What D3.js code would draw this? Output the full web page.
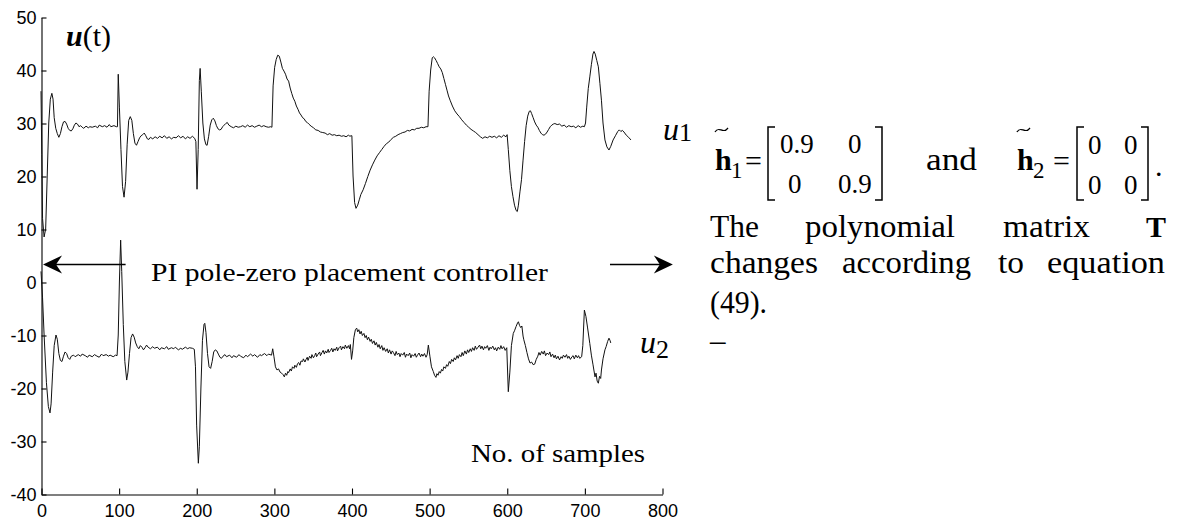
<!DOCTYPE html>
<html><head><meta charset="utf-8">
<script src="https://cdn.jsdelivr.net/npm/d3@7"></script>
<style>
html,body{margin:0;padding:0;background:#fff;}
svg{display:block;}
.tick text{font-family:"Liberation Sans",Arial,Helvetica,sans-serif;font-size:18px;fill:#000;}
.serif{font-family:"Liberation Serif","Times New Roman",serif;fill:#000;}
</style></head><body>
<svg id="chart" width="1178" height="521"></svg>
<script>
// ---------------- data ----------------
const xTicks = [0,100,200,300,400,500,600,700,800];
const yTicks = [-40,-30,-20,-10,0,10,20,30,40,50];

// u1 : [sample, value]
const u1Samples = [
[0,36],[1,24],[2,12],[4,8.5],[6,10],[8,20],[10,30],[12,34.5],[14,35.6],[15.5,34.5],[17,31],[19,29],[21,28],[23,27.3],[25,28],[27,29.3],[29,30.2],[31,30.3],[33,29.8],[35,29],[37,28.6],[39,28.5],[41,28.9],[43,29.6],[45,30],[47,29.8],[49,29.3],[51,29.5],[53,29.2],[55,29.0],[58,29.4],[61,29.1],[63,29.3],[66,29.2],[70,29.4],[73,29.1],[75,29.6],[79,29.3],[82,29.5],[85,29.2],[88,29.7],[90,29.3],[94,29.5],[97,29.3],
[98.5,29.3],[99.5,39.2],[101,33],[103,25],[105,18],[107,16],[109,19],[111,26],[113,30.5],[115,31.2],[117,30.5],[119,28],[121,26.2],[123,25.8],[125,26.5],[127,27.2],[129,27.6],[131,27.8],[133,28.1],[135,27.6],[137,27.0],[139,26.9],[141,27.3],[144,27.0],[147,27.4],[150,27.1],[153,27.5],[156,27.2],[159,27.6],[162,27.1],[165,27.4],[168,27.0],[171,27.3],[174,27.2],[177,27.6],[180,27.2],[183,27.5],[186,27.0],[189,27.4],[192,27.1],[195,27.5],[198,27.1],
[199.5,26.5],[201,17.5],[202.5,25],[204,38],[205,40.3],[206.5,36],[208.5,30],[210.5,27],[212.5,25.9],[214,25.8],[216,27.5],[218,29.6],[220,30.6],[222,30.9],[224,30.4],[226,29.5],[228,28.9],[230,28.7],[232,28.8],[234,29.3],[236,29.6],[238,29.9],[240,30.1],[242,29.6],[245,29.3],[248,29.1],[251,29.4],[254,29.2],[257,29.3],[260,29.5],[263,29.2],[266,29.6],[269,29.3],[272,29.5],[275,29.2],[278,29.4],[281,29.6],[284,29.3],[287,29.5],[290,29.3],[293,29.2],[296,29.3],
[297.5,29.2],[299,37],[301,40.5],[303,42],[305,42.8],[307,42.6],[309,41.5],[311,40.3],[313,39.8],[315,39.2],[317,38.3],[319,37.9],[321,36.6],[323,35.6],[325,34.7],[327,34.1],[329,33.2],[331,32.6],[333,31.9],[335,31.5],[337,31.0],[339,30.8],[341,30.3],[343,30.1],[345,29.8],[348,29.4],[351,29.1],[354,28.7],[357,28.6],[360,28.3],[363,28.2],[366,28.1],[369,27.8],[372,28.0],[375,27.7],[378,27.8],[381,27.6],[384,27.7],[387,27.5],[390,27.6],[393,27.4],[396,27.7],[398,27.5],[399.5,27.6],
[400.5,27.6],[402,20],[404,15],[405.8,13.9],[408,14.5],[410,15.5],[412,16.5],[415,17.4],[418,18.6],[421,19.9],[424,21.1],[427,22.1],[430,23],[433,23.8],[436,24.4],[439,25.0],[442,25.6],[445,26.1],[448,26.4],[451,26.9],[454,27.3],[457,27.5],[460,27.8],[463,28.0],[466,28.2],[469,28.3],[472,28.6],[475,28.5],[478,28.8],[481,28.7],[484,29.0],[487,29.0],[490,29.2],[493,29.1],[496,29.3],[498.5,29.3],
[500,36],[502,40],[504,42.3],[505.5,42.5],[507,42.3],[509,41.8],[511,41.2],[513,40.6],[515,40.2],[517,39.5],[519,38.4],[521,37.3],[523,36.2],[525,35.1],[527,34.3],[530,33.2],[533,32.3],[536,31.7],[539,31.2],[542,30.6],[545,30.1],[548,29.6],[551,29.2],[554,28.8],[557,28.5],[560,28.2],[563,27.8],[566,27.4],[569,27.1],[572,27.4],[575,27.2],[578,27.5],[581,27.3],[584,27.5],[587,27.2],[590,27.6],[593,27.3],[596,27.7],[599,27.4],[600.5,27.8],
[602,25],[604,21],[606,18],[608,16.1],[610,14.5],[612,13.5],[613.6,13.3],[615,14.5],[617,17],[619,19.3],[621,23],[623,26.5],[625,29.5],[627,31.3],[629,32.2],[630.5,32.3],[632,31.8],[634,31],[636,30.2],[638,29.6],[640,29.2],[642,28.6],[644,28.1],[646,27.8],[648,27.7],[650,27.9],[652,28.3],[654,28.8],[656,29.3],[658,29.6],[660,29.8],[662,29.9],[665,29.7],[668,29.8],[671,29.4],[674,29.6],[677,29.2],[680,29.5],[683,29.3],[686,29.4],[689,29.1],[692,29.5],[695,29.2],[698,29.4],[700,29.3],
[701.5,30],[703,33],[705,36.5],[707,38.7],[709,41],[711,43],[712.4,43.5],[714,43],[716,41.8],[718,40.6],[720,37.5],[722,34.3],[724,30],[726.5,26.8],[729,25.5],[731.7,24.9],[734,25.6],[737,26.8],[740,27.6],[743,28.4],[745,28.7],[747,28.4],[749,28.6],[751,28.3],[754,27.7],[757,27.3],[760,26.8]
];

// u2 : [sample, value]
const u2Samples = [
[0,2],[2,-3],[4,-10],[7,-19],[9.5,-23.5],[11.6,-24.7],[13,-23],[15,-17],[17,-12],[19.3,-10],[21,-10.8],[23,-13.5],[25,-14.8],[27,-15],[29,-14],[31,-13.2],[33,-13.5],[35,-14.3],[37,-14.6],[39,-14],[42,-13.8],[44,-14.1],[48,-13.7],[51,-14.0],[53,-13.6],[57,-13.9],[60,-14.2],[62,-13.8],[66,-14.1],[69,-13.7],[71,-13.9],[75,-14.2],[78,-13.6],[80,-13.9],[84,-13.7],[87,-14.0],[89,-13.8],[93,-14.1],[96,-13.8],[98,-13.9],
[99.5,-10],[101,0],[102.6,7.9],[104,2],[106,-8],[108,-15],[110.4,-18.5],[112,-17],[114,-13.5],[116,-10.5],[118,-9.8],[120,-10.4],[122,-11.5],[124,-12.2],[126,-12.6],[128,-12.0],[130,-12.3],[132,-12.8],[134,-12.4],[136,-11.9],[138,-12.3],[141,-12.6],[144,-12.2],[146,-12.5],[150,-12.3],[153,-12.8],[155,-12.4],[159,-12.6],[162,-12.2],[164,-12.7],[168,-12.4],[171,-12.6],[173,-12.3],[177,-12.8],[180,-12.5],[182,-12.7],[186,-12.3],[189,-12.6],[191,-12.4],[195,-12.5],[197.5,-12.7],
[199,-16],[200.5,-27],[202.7,-34.2],[204,-31],[206,-20],[208,-11],[210,-8],[211,-7.8],[212.5,-9.5],[214.5,-13.5],[216.5,-16],[218.5,-16.3],[220.5,-15],[222.5,-13.2],[224.5,-12.8],[226.5,-13.0],[228.5,-13.6],[230.5,-14.2],[232.5,-14.4],[234.5,-14.0],[237,-13.7],[239,-14.1],[243,-13.8],[246,-14.3],[248,-13.9],[252,-14.2],[255,-13.7],[257,-14.0],[261,-14.3],[264,-13.8],[266,-14.1],[270,-13.6],[273,-14.0],[275,-13.7],[279,-14.2],[282,-13.7],[284,-13.9],[288,-13.5],[291,-13.9],[293,-13.6],[297,-13.8],[298.5,-12.6],
[300,-14],[302,-16],[304,-16.6],[306,-16.4],[308,-17.0],[310,-17.2],[312,-17.5],[313.5,-17.9],[315,-17.2],[316.5,-17.6],[318,-16.9],[319,-17.1],[321,-16.4],[322.5,-16.8],[324,-16.0],[326,-16.3],[327,-15.7],[329,-16.1],[330.5,-15.4],[332,-15.2],[333.5,-15.7],[335,-14.9],[337,-15.0],[338,-14.5],[340,-15.1],[341.5,-14.6],[343,-14.2],[344,-14.8],[346,-14.0],[348,-14.4],[349,-13.7],[351,-14.3],[352.5,-13.9],[354,-13.4],[355,-14.1],[357,-13.6],[359,-13.2],[360,-13.9],[362,-13.3],[363.5,-12.9],[365,-13.6],[366.5,-13.0],[368,-13.4],[370,-12.7],[371,-13.3],[373,-12.9],[374.5,-12.5],[376,-13.2],[377.5,-12.6],[379,-12.9],[381,-12.3],[382,-13.0],[384,-12.4],[386,-12.1],[387,-12.8],[389,-12.2],[391,-12.6],[392,-11.9],[394,-12.5],[396,-12.0],[397.5,-12.6],[398.5,-11.8],
[400,-14.6],[401.5,-13],[403,-10.5],[405,-9],[406.7,-8.7],[408,-9.4],[409.5,-9.0],[411,-9.8],[412.5,-9.3],[414,-10.1],[416,-9.7],[417.5,-10.5],[419,-10.1],[420.5,-10.9],[422,-10.4],[424,-11.2],[425.5,-10.8],[427,-11.6],[429,-11.1],[430.5,-11.9],[432,-11.4],[434,-12.3],[435.5,-11.8],[437,-12.6],[439,-12.0],[440.5,-12.9],[442,-12.4],[444,-13.1],[446,-12.6],[447.5,-13.4],[449,-12.8],[451,-13.6],[452.5,-13.0],[454,-13.3],[456,-13.9],[457.5,-13.1],[459,-13.7],[461,-13.4],[462.5,-14.1],[464,-13.5],[466,-13.8],[468,-13.3],[469.5,-14.2],[471,-13.6],[473,-13.9],[475,-13.4],[476.5,-14.3],[478,-13.7],[480,-14.0],[482,-13.5],[483.5,-14.2],[485,-13.8],[487,-13.4],[489,-14.1],[490.5,-13.6],[492,-14.0],[494,-13.5],[496,-14.2],[497.5,-13.7],[499,-11.9],
[501,-14],[503,-16],[505.4,-16.9],[507,-17.6],[508.8,-18],[510,-17.3],[511.5,-17.6],[513,-16.9],[514.5,-17.2],[516,-16.5],[517.5,-16.8],[519,-16.0],[521,-16.3],[522.5,-15.6],[524,-15.9],[526,-15.0],[527.5,-15.4],[529,-14.6],[531,-15.0],[532.5,-14.3],[534,-14.7],[536,-13.9],[537.5,-14.4],[539,-13.7],[541,-14.1],[542.5,-13.3],[544,-13.9],[546,-13.0],[548,-13.6],[549.5,-12.8],[551,-13.3],[553,-12.6],[554.5,-13.1],[556,-12.4],[558,-12.9],[559.5,-12.1],[561,-12.7],[563,-12.3],[565,-11.9],[566.5,-12.6],[568,-12.1],[570,-12.8],[571.5,-12.2],[573,-12.5],[575,-12.0],[577,-12.9],[578.5,-12.3],[580,-12.6],[582,-12.1],[584,-12.8],[585.5,-12.4],[587,-13.0],[589,-12.3],[591,-12.7],[592.5,-12.0],[594,-12.6],[596,-12.2],[598,-12.9],[600,-12.4],
[602,-20.7],[604,-17],[606,-12],[608.4,-9.7],[610,-9.2],[612,-8.4],[614,-7.7],[615,-7.5],[616.5,-8.2],[618,-8.6],[619.5,-8.3],[621,-10.2],[622,-10.9],[624,-12],[626,-13.3],[628,-14.5],[630,-15.3],[632,-15.1],[634,-15.6],[636,-15.5],[638,-14.6],[640,-14.0],[641.5,-13.3],[643,-13.8],[645,-13.1],[647,-13.6],[648.5,-13.0],[650,-13.9],[652,-13.4],[654,-13.7],[655.5,-13.2],[657,-14.1],[659,-13.6],[661,-14.3],[662.5,-13.8],[664,-14.5],[666,-14.0],[668,-14.7],[670,-14.1],[671.5,-14.4],[673,-13.8],[675,-14.2],[677,-13.7],[678.5,-14.4],[680,-14.0],[682,-14.6],[684,-14.1],[685.5,-13.9],[687,-14.5],[689,-13.8],[691,-14.3],[692.5,-13.9],[694,-14.4],[696.5,-14.1],
[698,-12],[700,-5.3],[702,-6.5],[704,-8.5],[707,-11.6],[709,-13.8],[711,-15.5],[713.7,-17.9],[715,-17.2],[716.5,-18.7],[718,-19.1],[719.5,-17.8],[721,-18.2],[722,-16.6],[724,-14.5],[726.5,-12.8],[728,-12.2],[730,-11.2],[731.7,-10.6],[733,-11.0],[734,-11.5]
];

// annotation arrows, in data units: [fromSample, toSample, value]
const leftArrow = [109, 2.6, 3.3];
const rightArrow = [733, 814, 3.3];

const controllerLabel = "PI pole-zero placement controller";
const xAxisLabel = "No. of samples";

// ---------------- drawing ----------------
const svg = d3.select("#chart");
const x = d3.scaleLinear().domain([0, 800]).range([41, 662]);
const y = d3.scaleLinear().domain([-40, 50]).range([494, 17]);
const fmt = d => String(d);

const gx = svg.append("g").attr("transform", "translate(0.5,494.5)")
  .call(d3.axisBottom(x).tickValues(xTicks).tickFormat(fmt).tickSizeInner(-6).tickSizeOuter(0).tickPadding(10));
const gy = svg.append("g").attr("transform", "translate(41.5,0.5)")
  .call(d3.axisLeft(y).tickValues(yTicks).tickFormat(fmt).tickSizeInner(-5).tickSizeOuter(0).tickPadding(5));
[gx, gy].forEach(g => {
  g.select(".domain").attr("stroke", "#000").attr("stroke-width", 1.1);
  g.selectAll(".tick line").attr("stroke", "#000").attr("stroke-width", 1.1);
  g.attr("font-family", null).attr("font-size", null);
});
gy.selectAll(".tick text").attr("dy", "0.36em");

const line = d3.line().x(d => x(d[0])).y(d => y(d[1]));
svg.append("path").datum(u1Samples).attr("d", line)
  .attr("fill", "none").attr("stroke", "#111").attr("stroke-width", 1).attr("stroke-linejoin", "round");
svg.append("path").datum(u2Samples).attr("d", line)
  .attr("fill", "none").attr("stroke", "#111").attr("stroke-width", 1).attr("stroke-linejoin", "round");

// arrows
function arrow(spec, dir) {
  const x0 = x(spec[0]), x1 = x(spec[1]), yy = y(spec[2]);
  svg.append("line").attr("x1", x0).attr("x2", x1 - dir * 8).attr("y1", yy).attr("y2", yy)
    .attr("stroke", "#000").attr("stroke-width", 1.6);
  const p = d3.path();
  p.moveTo(x1, yy);
  p.lineTo(x1 - dir * 19, yy - 9);
  p.lineTo(x1 - dir * 13, yy);
  p.lineTo(x1 - dir * 19, yy + 9);
  p.closePath();
  svg.append("path").attr("d", p.toString()).attr("fill", "#000");
}
arrow(leftArrow, -1);
arrow(rightArrow, 1);

// serif text helper
function txt(s, px, py, size, opts = {}) {
  const t = svg.append("text").attr("class", "serif").attr("x", px).attr("y", py)
    .attr("font-size", size).text(s);
  if (opts.italic) t.attr("font-style", "italic");
  if (opts.bold) t.attr("font-weight", "bold");
  if (opts.len) t.attr("textLength", opts.len).attr("lengthAdjust", "spacingAndGlyphs");
  return t;
}

// u(t)
const ut = svg.append("text").attr("class", "serif").attr("x", 66).attr("y", 46).attr("font-size", 30);
ut.append("tspan").attr("font-weight", "bold").attr("font-style", "italic").text("u");
ut.append("tspan").text("(t)");

// u1, u2 labels
txt("u", 663, 140, 32, {italic: true});
txt("1", 679, 141, 26);
txt("u", 640, 353, 32, {italic: true});
txt("2", 656, 358, 26);

// controller text and x label
txt(controllerLabel, 151, 281, 25, {len: 397});
txt(xAxisLabel, 471, 462, 25, {len: 174});

// matrices
function tilde(px, py) {
  svg.append("path").attr("d", `M${px},${py+4} C${px+4},${py-3} ${px+8},${py+7} ${px+13},${py}`)
    .attr("fill", "none").attr("stroke", "#000").attr("stroke-width", 1.3);
}
function bracket(px, top, bot, dir) {
  svg.append("path").attr("d", `M${px + dir*7},${top} H${px} V${bot} H${px + dir*7}`)
    .attr("fill", "none").attr("stroke", "#000").attr("stroke-width", 1.5);
}
// h1
tilde(715, 128);
txt("h", 715, 170, 30, {bold: true});
txt("1", 731, 178, 23);
txt("=", 745, 171, 30);
bracket(768, 127, 200, 1);
bracket(882, 127, 200, -1);
txt("0.9", 780, 153, 27); txt("0", 848, 153, 27);
txt("0", 788, 193, 27); txt("0.9", 838, 193, 27);
txt("and", 926, 170, 31, {len: 51});
// h2
tilde(1017, 128);
txt("h", 1017, 170, 30, {bold: true});
txt("2", 1033, 178, 23);
txt("=", 1053, 171, 30);
bracket(1077, 127, 200, 1);
bracket(1148, 127, 200, -1);
txt("0", 1088, 154, 27); txt("0", 1124, 154, 27);
txt("0", 1088, 194, 27); txt("0", 1124, 194, 27);
txt(".", 1155, 176, 30);

// paragraph
txt("The", 710, 237, 31, {len: 49});
txt("polynomial", 805, 237, 31, {len: 150});
txt("matrix", 1003, 237, 31, {len: 87});
txt("T", 1146, 237, 30, {bold: true});
txt("changes", 710, 273, 31, {len: 108});
txt("according", 842, 273, 31, {len: 129});
txt("to", 998, 273, 31, {len: 26});
txt("equation", 1047, 273, 31, {len: 118});
txt("(49).", 710, 313, 31, {len: 57});
txt("\u2013", 710, 351, 31);
</script></body></html>
